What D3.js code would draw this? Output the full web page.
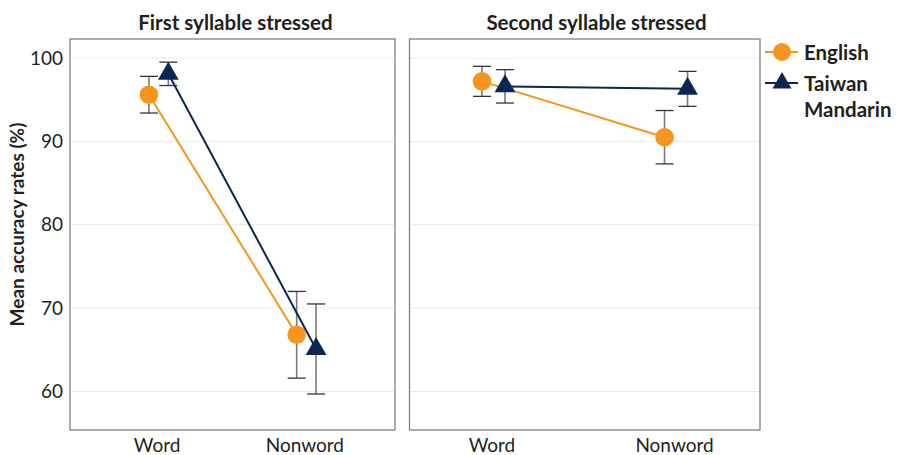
<!DOCTYPE html>
<html>
<head>
<meta charset="utf-8">
<script src="https://cdn.jsdelivr.net/npm/d3@7"></script>
<style>
  html, body { margin: 0; padding: 0; background: #fff; }
  svg { display: block; font-family: Lato, "Open Sans", sans-serif; }
</style>
</head>
<body>
<svg id="chart" width="897" height="455"></svg>
<script>
// Mean accuracy (%) with half-width of the error bars, by panel, group and word type
const panels = ["First syllable stressed", "Second syllable stressed"];
const wordTypes = ["Word", "Nonword"];
const groups = ["English", "Taiwan Mandarin"];
const yTicks = [60, 70, 80, 90, 100];

// [panel][wordType]
const englishMean = [[95.6, 66.8], [97.2, 90.5]];
const englishErr  = [[2.2, 5.2], [1.8, 3.2]];
const mandarinMean = [[98.1, 65.1], [96.6, 96.3]];
const mandarinErr  = [[1.4, 5.4], [2.0, 2.1]];

const groupColor = { "English": "#F7941D", "Taiwan Mandarin": "#0B2650" };
const seriesMean = { "English": englishMean, "Taiwan Mandarin": mandarinMean };
const seriesErr = { "English": englishErr, "Taiwan Mandarin": mandarinErr };

const svg = d3.select("#chart");
const textColor = "#231F20";
const labelSize = 19;
const titleSize = 20.5;
const legendSize = 20.5;

const plotTop = 39, plotBottom = 430;
const panelBoxes = [
  { x0: 70, x1: 395, padding: 0.6, dodge: 9.7, titleX: 235.5 },
  { x0: 409.5, x1: 760, padding: 0.46, dodge: 11.5, titleX: 596.5 }
];

const y = d3.scaleLinear().domain([55.38, 102.28]).range([plotBottom, plotTop]);

const triangle = r => `M0,${-r}L${r * Math.sqrt(3) / 2},${r / 2}L${-r * Math.sqrt(3) / 2},${r / 2}Z`;

panels.forEach((title, p) => {
  const box = panelBoxes[p];
  const x = d3.scalePoint().domain(wordTypes).range([box.x0, box.x1]).padding(box.padding);
  const g = svg.append("g");

  // grid lines
  g.selectAll("line.grid").data(yTicks).join("line")
    .attr("x1", box.x0).attr("x2", box.x1)
    .attr("y1", d => y(d)).attr("y2", d => y(d))
    .attr("stroke", "#EBEBEB").attr("stroke-width", 1);

  // panel border
  g.append("rect")
    .attr("x", box.x0).attr("y", plotTop)
    .attr("width", box.x1 - box.x0).attr("height", plotBottom - plotTop)
    .attr("fill", "none").attr("stroke", "#808080").attr("stroke-width", 1.3);

  // panel title
  g.append("text")
    .attr("x", box.titleX).attr("y", 30)
    .attr("text-anchor", "middle").attr("font-weight", 700)
    .attr("font-size", titleSize).attr("fill", textColor)
    .text(title);

  // x axis labels
  const xAxis = d3.axisBottom(x).tickSize(0).tickPadding(0);
  const ax = g.append("g").attr("transform", `translate(0,${plotBottom})`).call(xAxis);
  ax.select(".domain").remove();
  ax.selectAll("text")
    .attr("dy", null).attr("y", 21.5).attr("dx", -2)
    .attr("font-size", labelSize).attr("fill", textColor)
    .attr("font-family", "Lato, sans-serif");

  // y axis labels, left panel only
  if (p === 0) {
    const yAxis = d3.axisLeft(y).tickValues(yTicks).tickSize(0).tickPadding(7);
    const ay = g.append("g").attr("transform", `translate(${box.x0},0)`).call(yAxis);
    ay.select(".domain").remove();
    ay.selectAll("text").attr("font-size", labelSize).attr("fill", textColor)
      .attr("font-family", "Lato, sans-serif");
  }

  groups.forEach((grp, gi) => {
    const off = gi === 0 ? -box.dodge : box.dodge;
    const pts = wordTypes.map((w, wi) => ({
      x: x(w) + off,
      mean: seriesMean[grp][p][wi],
      err: seriesErr[grp][p][wi]
    }));

    // connecting line
    g.append("path")
      .datum(pts)
      .attr("d", d3.line().x(d => d.x).y(d => y(d.mean)))
      .attr("fill", "none").attr("stroke", groupColor[grp]).attr("stroke-width", 2);

    // error bars
    const eb = g.append("g");
    eb.selectAll("line.v").data(pts).join("line")
      .attr("x1", d => d.x).attr("x2", d => d.x)
      .attr("y1", d => y(d.mean + d.err)).attr("y2", d => y(d.mean - d.err))
      .attr("stroke", "#7A7A7A").attr("stroke-width", 1.6);
    ["+", "-"].forEach(sign => {
      eb.selectAll(`line.c${sign === "+" ? "t" : "b"}`).data(pts).join("line")
        .attr("x1", d => d.x - 9).attr("x2", d => d.x + 9)
        .attr("y1", d => y(sign === "+" ? d.mean + d.err : d.mean - d.err))
        .attr("y2", d => y(sign === "+" ? d.mean + d.err : d.mean - d.err))
        .attr("stroke", "#333").attr("stroke-width", 1.3);
    });

    // markers
    if (gi === 0) {
      g.selectAll(null).data(pts).join("circle")
        .attr("cx", d => d.x).attr("cy", d => y(d.mean)).attr("r", 9.3)
        .attr("fill", groupColor[grp]);
    } else {
      g.selectAll(null).data(pts).join("path")
        .attr("transform", d => `translate(${d.x},${y(d.mean)})`)
        .attr("d", triangle(12)).attr("fill", groupColor[grp]);
    }
  });
});

// y axis title
svg.append("text")
  .attr("transform", `translate(24,${(plotTop + plotBottom) / 2 - 10}) rotate(-90)`)
  .attr("text-anchor", "middle").attr("font-weight", 700)
  .attr("font-size", 19).attr("fill", textColor)
  .text("Mean accuracy rates (%)");

// legend
const legend = svg.append("g");
const legendRows = [
  { grp: "English", y: 52, lines: ["English"] },
  { grp: "Taiwan Mandarin", y: 83, lines: ["Taiwan", "Mandarin"] }
];
legendRows.forEach(row => {
  legend.append("line")
    .attr("x1", 765).attr("x2", 798).attr("y1", row.y).attr("y2", row.y)
    .attr("stroke", groupColor[row.grp]).attr("stroke-width", 2);
  if (row.grp === "English") {
    legend.append("circle").attr("cx", 782).attr("cy", row.y).attr("r", 9)
      .attr("fill", groupColor[row.grp]);
  } else {
    legend.append("path").attr("transform", `translate(782,${row.y})`)
      .attr("d", triangle(11)).attr("fill", groupColor[row.grp]);
  }
  row.lines.forEach((t, i) => {
    legend.append("text")
      .attr("x", 804).attr("y", row.y + 7.5 + i * 26)
      .attr("font-weight", 700).attr("font-size", legendSize).attr("fill", textColor)
      .text(t);
  });
});
</script>
</body>
</html>
